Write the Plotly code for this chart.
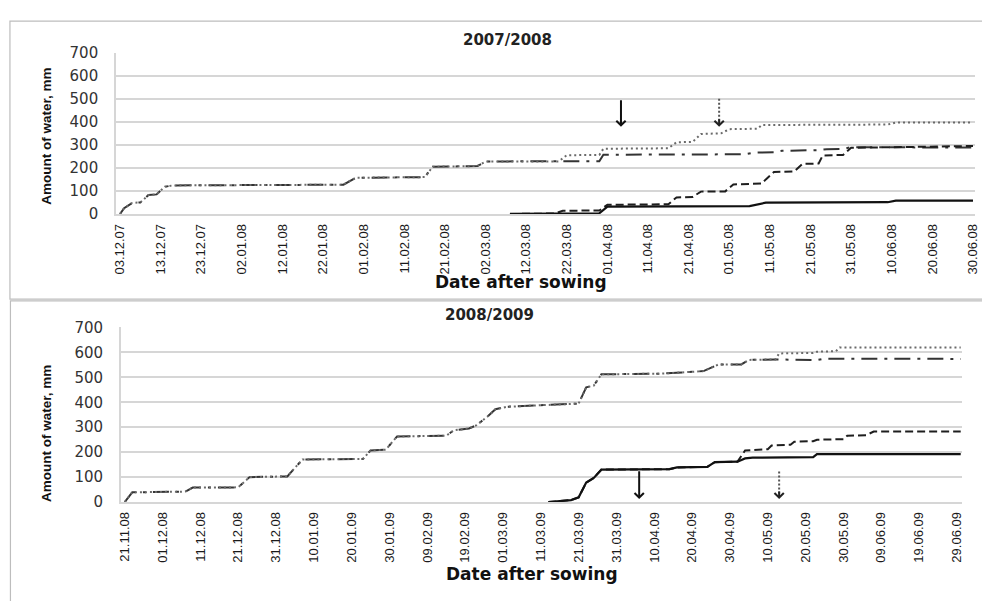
import plotly.graph_objects as go
from datetime import datetime

# ---------------- DATA ----------------
# tick labels (every 10 days)
ticks_0708 = ["03.12.07", "13.12.07", "23.12.07", "02.01.08", "12.01.08", "22.01.08",
              "01.02.08", "11.02.08", "21.02.08", "02.03.08", "12.03.08", "22.03.08",
              "01.04.08", "11.04.08", "21.04.08", "01.05.08", "11.05.08", "21.05.08",
              "31.05.08", "10.06.08", "20.06.08", "30.06.08"]
ticks_0809 = ["21.11.08", "01.12.08", "11.12.08", "21.12.08", "31.12.08", "10.01.09",
              "20.01.09", "30.01.09", "09.02.09", "19.02.09", "01.03.09", "11.03.09",
              "21.03.09", "31.03.09", "10.04.09", "20.04.09", "30.04.09", "10.05.09",
              "20.05.09", "30.05.09", "09.06.09", "19.06.09", "29.06.09"]

# 2007/2008 - cumulative water, mm
dot_0708_dates = ["2007-12-03", "2007-12-04", "2007-12-06", "2007-12-08", "2007-12-10", "2007-12-12",
                  "2007-12-14", "2007-12-16", "2008-01-27", "2008-01-30", "2008-02-16", "2008-02-18",
                  "2008-02-29", "2008-03-02", "2008-03-20", "2008-03-22", "2008-03-30", "2008-03-31",
                  "2008-04-16", "2008-04-18", "2008-04-22", "2008-04-24", "2008-04-29", "2008-05-01",
                  "2008-05-08", "2008-05-09", "2008-06-09", "2008-06-11", "2008-06-30"]
dot_0708_vals = [0, 25, 48, 50, 82, 85, 118, 124, 127, 157, 160, 205, 208, 228, 228, 255, 256, 283,
                 285, 311, 313, 347, 350, 368, 370, 386, 388, 397, 397]

dashdot_0708_dates = ["2007-12-03", "2007-12-04", "2007-12-06", "2007-12-08", "2007-12-10", "2007-12-12",
                      "2007-12-14", "2007-12-16", "2008-01-27", "2008-01-30", "2008-02-16", "2008-02-18",
                      "2008-02-29", "2008-03-02", "2008-03-30", "2008-03-31", "2008-05-05", "2008-05-07",
                      "2008-05-12", "2008-05-14", "2008-05-23", "2008-05-25", "2008-05-29", "2008-05-31",
                      "2008-06-30"]
dashdot_0708_vals = [0, 25, 48, 50, 82, 85, 118, 124, 127, 157, 160, 205, 208, 228, 229, 257, 259, 266,
                     268, 274, 277, 281, 282, 290, 288]

dash_0708_dates = ["2008-03-08", "2008-03-19", "2008-03-21", "2008-03-30", "2008-04-01", "2008-04-16",
                   "2008-04-18", "2008-04-22", "2008-04-24", "2008-04-30", "2008-05-02", "2008-05-09",
                   "2008-05-10", "2008-05-12", "2008-05-17", "2008-05-19", "2008-05-23", "2008-05-24",
                   "2008-05-29", "2008-05-31", "2008-06-30"]
dash_0708_vals = [0, 2, 14, 15, 40, 42, 72, 74, 97, 98, 128, 132, 150, 182, 185, 217, 219, 254, 256,
                  287, 295]

solid_0708_dates = ["2008-03-08", "2008-03-21", "2008-03-30", "2008-04-01", "2008-05-06", "2008-05-10",
                    "2008-06-09", "2008-06-11", "2008-06-30"]
solid_0708_vals = [0, 2, 3, 32, 34, 49, 51, 58, 58]

# 2008/2009 - cumulative water, mm
dot_0809_dates = ["2008-11-21", "2008-11-23", "2008-12-07", "2008-12-09", "2008-12-21", "2008-12-24",
                  "2009-01-03", "2009-01-07", "2009-01-23", "2009-01-25", "2009-01-29", "2009-02-01",
                  "2009-02-14", "2009-02-16", "2009-02-20", "2009-02-22", "2009-02-25", "2009-02-27",
                  "2009-03-02", "2009-03-19", "2009-03-21", "2009-03-23", "2009-03-25", "2009-03-27",
                  "2009-04-12", "2009-04-23", "2009-04-27", "2009-05-03", "2009-05-05", "2009-05-12",
                  "2009-05-13", "2009-05-22", "2009-05-23", "2009-05-28", "2009-05-29", "2009-06-30"]
dot_0809_vals = [0, 39, 42, 58, 59, 100, 103, 171, 173, 207, 210, 263, 266, 288, 295, 308, 344, 372,
                 382, 391, 395, 460, 467, 512, 515, 525, 552, 552, 570, 572, 596, 598, 603, 605, 620, 620]

dashdot_0809_dates = ["2008-11-21", "2008-11-23", "2008-12-07", "2008-12-09", "2008-12-21", "2008-12-24",
                      "2009-01-03", "2009-01-07", "2009-01-23", "2009-01-25", "2009-01-29", "2009-02-01",
                      "2009-02-14", "2009-02-16", "2009-02-20", "2009-02-22", "2009-02-25", "2009-02-27",
                      "2009-03-02", "2009-03-19", "2009-03-21", "2009-03-23", "2009-03-25", "2009-03-27",
                      "2009-04-12", "2009-04-23", "2009-04-27", "2009-05-03", "2009-05-05", "2009-05-12",
                      "2009-05-23", "2009-05-25", "2009-06-30"]
dashdot_0809_vals = [0, 39, 42, 58, 59, 100, 103, 171, 173, 207, 210, 263, 266, 288, 295, 308, 344, 372,
                     382, 391, 395, 460, 467, 512, 515, 525, 552, 552, 570, 572, 569, 575, 574]

dash_0809_dates = ["2009-03-13", "2009-03-17", "2009-03-19", "2009-03-21", "2009-03-23", "2009-03-25",
                   "2009-03-27", "2009-04-14", "2009-04-16", "2009-04-24", "2009-04-26", "2009-05-02",
                   "2009-05-04", "2009-05-10", "2009-05-11", "2009-05-16", "2009-05-17", "2009-05-22",
                   "2009-05-23", "2009-05-30", "2009-05-31", "2009-06-05", "2009-06-07", "2009-06-30"]
dash_0809_vals = [0, 5, 8, 19, 78, 97, 130, 132, 139, 141, 160, 162, 207, 212, 227, 230, 242, 244,
                  250, 252, 266, 268, 283, 283]

solid_0809_dates = ["2009-03-13", "2009-03-17", "2009-03-19", "2009-03-21", "2009-03-23", "2009-03-25",
                    "2009-03-27", "2009-04-14", "2009-04-16", "2009-04-24", "2009-04-26", "2009-05-02",
                    "2009-05-04", "2009-05-06", "2009-05-22", "2009-05-23", "2009-06-30"]
solid_0809_vals = [0, 5, 8, 19, 78, 97, 130, 132, 139, 141, 160, 162, 175, 178, 180, 192, 192]

# arrows: (date, start value, end value)
arrow_solid_0708 = ("2008-04-04 08:00", 500, 378)
arrow_dot_0708 = ("2008-04-28 12:00", 500, 378)
arrow_solid_0809 = ("2009-04-06", 130, 12)
arrow_dot_0809 = ("2009-05-13", 123, 12)

# ---------------- FIGURE ----------------
W, H = 982, 601


def px_x(p):
    return p / W


def px_y(p):
    return 1 - p / H


def parse(lbl):
    return datetime.strptime(lbl, "%d.%m.%y")


styles = {
    "dashdot": dict(color="#333333", width=2, dash="16px,7px,3px,7px"),
    "dot": dict(color="#6a6a6a", width=2, dash="2px,3px"),
    "dash": dict(color="#1e1e1e", width=2, dash="8px,4px"),
    "solid": dict(color="#111111", width=2.2, dash="solid"),
}

fig = go.Figure()

panels = [
    ("x", "y", [(dashdot_0708_dates, dashdot_0708_vals, "dashdot"),
                (dot_0708_dates, dot_0708_vals, "dot"),
                (dash_0708_dates, dash_0708_vals, "dash"),
                (solid_0708_dates, solid_0708_vals, "solid")]),
    ("x2", "y2", [(dashdot_0809_dates, dashdot_0809_vals, "dashdot"),
                  (dot_0809_dates, dot_0809_vals, "dot"),
                  (dash_0809_dates, dash_0809_vals, "dash"),
                  (solid_0809_dates, solid_0809_vals, "solid")]),
]
for xa, ya, series in panels:
    for d, v, st in series:
        fig.add_trace(go.Scatter(x=d, y=v, mode="lines", line=styles[st],
                                 xaxis=xa, yaxis=ya, showlegend=False, hoverinfo="skip"))

annotations = []
# solid arrows
for (d, v0, v1), xa, ya in [(arrow_solid_0708, "x", "y"), (arrow_solid_0809, "x2", "y2")]:
    annotations.append(dict(x=d, y=v1, ax=d, ay=v0, xref=xa, yref=ya, axref=xa, ayref=ya,
                            showarrow=True, arrowhead=4, arrowsize=0.9, arrowwidth=2,
                            arrowcolor="#111111", text=""))
# dotted arrows: dotted shaft + head
for (d, v0, v1), xa, ya in [(arrow_dot_0708, "x", "y"), (arrow_dot_0809, "x2", "y2")]:
    fig.add_trace(go.Scatter(x=[d, d], y=[v0, v1 + (v0 - v1) * 0.08], mode="lines",
                             line=dict(color="#555555", width=2, dash="2px,2px"),
                             xaxis=xa, yaxis=ya, showlegend=False, hoverinfo="skip"))
    annotations.append(dict(x=d, y=v1, ax=0, ay=-9, xref=xa, yref=ya,
                            showarrow=True, arrowhead=4, arrowsize=0.9, arrowwidth=2,
                            arrowcolor="#222222", text=""))

title_font = dict(family="DejaVu Sans", size=15, color="#222222", weight="bold")
xt_font = dict(family="DejaVu Sans", size=17, color="#111111", weight="bold")
yt_font = dict(family="Liberation Sans, Arial", size=13.5, color="#111111", weight="bold")

annotations += [
    dict(text="2007/2008", x=px_x(508), y=px_y(31.7), xref="paper", yref="paper",
         showarrow=False, font=title_font, xanchor="center", yanchor="middle"),
    dict(text="2008/2009", x=px_x(490), y=px_y(315), xref="paper", yref="paper",
         showarrow=False, font=title_font, xanchor="center", yanchor="middle"),
    dict(text="Date after sowing", x=px_x(522), y=px_y(281), xref="paper", yref="paper",
         showarrow=False, font=xt_font, xanchor="center", yanchor="middle"),
    dict(text="Date after sowing", x=px_x(533), y=px_y(582), xref="paper", yref="paper",
         showarrow=False, font=xt_font, xanchor="center", yanchor="middle"),
    dict(text="Amount of water, mm", x=px_x(42), y=px_y(131), xref="paper", yref="paper",
         showarrow=False, font=yt_font, textangle=-90, xanchor="center", yanchor="middle"),
    dict(text="Amount of water, mm", x=px_x(43.5), y=px_y(438), xref="paper", yref="paper",
         showarrow=False, font=yt_font, textangle=-90, xanchor="center", yanchor="middle"),
]

grid_col = "#d6d6d6"
tick_font_x = dict(family="Liberation Sans, Arial", size=13, color="#1a1a1a")
tick_font_y = dict(family="DejaVu Sans", size=15, color="#333333")

xcommon = dict(type="date", showgrid=False, zeroline=False, showline=True, linecolor=grid_col,
               linewidth=1.5, tickangle=-90, ticks="outside", ticklen=3,
               tickcolor="rgba(0,0,0,0)", tickfont=tick_font_x, ticklabeloverflow="allow")
ycommon = dict(range=[0, 700], dtick=100, tick0=0, showgrid=True, gridcolor=grid_col, gridwidth=1.5,
               zeroline=False, showline=True, linecolor=grid_col, linewidth=1.5,
               ticks="outside", ticklen=13, tickcolor="rgba(0,0,0,0)", tickfont=tick_font_y)

fig.update_layout(
    width=W, height=H, margin=dict(l=0, r=0, t=0, b=0),
    paper_bgcolor="white", plot_bgcolor="white",
    xaxis=dict(domain=[px_x(113), px_x(980)], anchor="y",
               range=["2007-12-02", "2008-06-30 12:00"],
               tickvals=[parse(t) for t in ticks_0708], ticktext=ticks_0708, **xcommon),
    yaxis=dict(domain=[px_y(211.3), px_y(45)], anchor="x", **ycommon),
    xaxis2=dict(domain=[px_x(118), px_x(967)], anchor="y2",
                range=["2008-11-20", "2009-06-30 09:00"],
                tickvals=[parse(t) for t in ticks_0809], ticktext=ticks_0809, **xcommon),
    yaxis2=dict(domain=[px_y(508.3), px_y(328.3)], anchor="x2", **ycommon),
    annotations=annotations,
    shapes=[
        dict(type="rect", xref="paper", yref="paper", x0=px_x(6), x1=px_x(1000),
             y0=px_y(299), y1=px_y(12.5), line=dict(color="#bdbdbd", width=1.2)),
        dict(type="rect", xref="paper", yref="paper", x0=px_x(6.5), x1=px_x(1000),
             y0=px_y(620), y1=px_y(300.8), line=dict(color="#bdbdbd", width=1.2)),
    ],
)

post = ("document.documentElement.style.margin='0';document.documentElement.style.overflow='hidden';"
        "document.body.style.margin='0';document.body.style.overflow='hidden';"
        "var gd=document.getElementById('{plot_id}');"
        "if(window.innerWidth>0&&window.innerHeight>0&&"
        "(window.innerWidth!=gd._fullLayout.width||window.innerHeight!=gd._fullLayout.height)){"
        "gd.style.width=window.innerWidth+'px';gd.style.height=window.innerHeight+'px';"
        "Plotly.relayout(gd,{width:window.innerWidth,height:window.innerHeight});}")

fig.write_html("out.html", config={"displayModeBar": False}, post_script=post)
